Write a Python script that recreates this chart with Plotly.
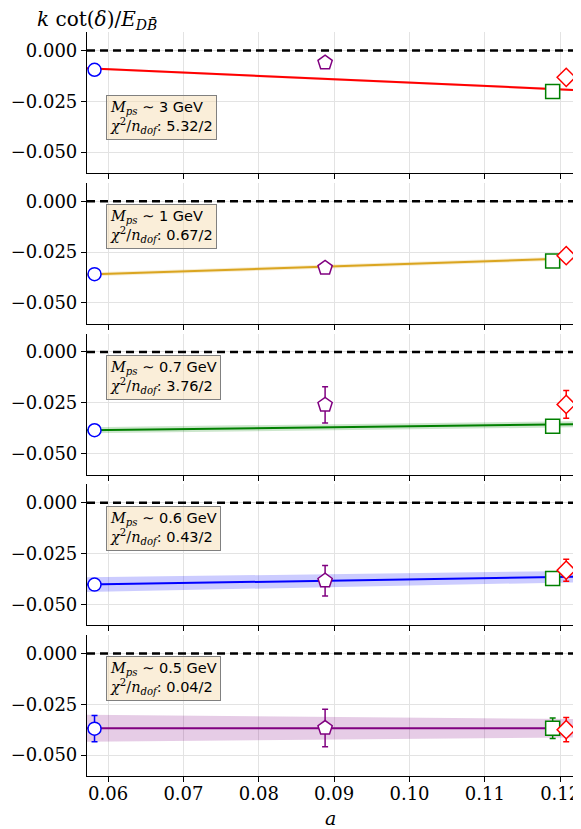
import plotly.graph_objects as go
from plotly.subplots import make_subplots

# ---------------- data ----------------
panel_labels = ["3", "1", "0.7", "0.6", "0.5"]
chi2_labels = ["5.32/2", "0.67/2", "3.76/2", "0.43/2", "0.04/2"]
fit_colors = ["#ff0000", "#daa520", "#008000", "#0000ff", "#800080"]
band_colors = ["rgba(255,0,0,0.2)", "rgba(218,165,32,0.2)", "rgba(0,128,0,0.2)",
               "rgba(0,0,255,0.2)", "rgba(128,0,128,0.2)"]

# lattice spacings of the four ensembles
a_circle = 0.0582
a_pentagon = 0.0888
a_square = 0.1190
a_diamond = 0.1208

# values per panel (circle, pentagon, square, diamond)
y_circle = [-0.0095, -0.0359, -0.0385, -0.0403, -0.0370]
e_circle = [0.0, 0.0, 0.0, 0.0, 0.0065]
y_pentagon = [-0.0060, -0.0328, -0.0260, -0.0384, -0.0367]
e_pentagon = [0.0, 0.0, 0.0089, 0.0075, 0.0092]
y_square = [-0.0202, -0.0294, -0.0365, -0.0373, -0.0368]
e_square = [0.0, 0.0, 0.0, 0.0, 0.0050]
y_diamond = [-0.0132, -0.0268, -0.0258, -0.0332, -0.0375]
e_diamond = [0.0, 0.0, 0.0068, 0.0054, 0.0060]

# fit lines evaluated at the axis ends
fit_a = [0.0572, 0.1217]
fit_left = [-0.0088, -0.0361, -0.0385, -0.0403, -0.0368]
fit_right = [-0.0194, -0.0281, -0.0356, -0.0364, -0.0368]
band_left = [0.0006, 0.0010, 0.0015, 0.0036, 0.0066]
band_right = [0.0006, 0.0010, 0.0015, 0.0028, 0.0045]

x_ticks = [0.06, 0.07, 0.08, 0.09, 0.10, 0.11, 0.12]
x_tick_text = ["0.06", "0.07", "0.08", "0.09", "0.10", "0.11", "0.12"]
y_ticks = [0.0, -0.025, -0.05]
y_tick_text = ["0.000", "\u22120.025", "\u22120.050"]

# ---------------- figure ----------------
n = 5
fig = make_subplots(rows=n, cols=1, shared_xaxes=True, vertical_spacing=9.75 / 744)

serif = "DejaVu Serif"
sans = "DejaVu Sans"

for i in range(n):
    r = i + 1
    # band
    fig.add_trace(go.Scatter(
        x=[fit_a[0], fit_a[1], fit_a[1], fit_a[0]],
        y=[fit_left[i] + band_left[i], fit_right[i] + band_right[i],
           fit_right[i] - band_right[i], fit_left[i] - band_left[i]],
        fill="toself", fillcolor=band_colors[i], line=dict(width=0),
        mode="lines", hoverinfo="skip", showlegend=False), row=r, col=1)
    # fit line
    fig.add_trace(go.Scatter(
        x=fit_a, y=[fit_left[i], fit_right[i]], mode="lines",
        line=dict(color=fit_colors[i], width=2), showlegend=False), row=r, col=1)
    # zero line
    fig.add_trace(go.Scatter(
        x=fit_a, y=[0, 0], mode="lines",
        line=dict(color="black", width=2.5, dash="8px,5px"), showlegend=False), row=r, col=1)
    # points
    pts = [
        (a_circle, y_circle[i], e_circle[i], "circle", "#0000ff", 13),
        (a_pentagon, y_pentagon[i], e_pentagon[i], "pentagon", "#800080", 15),
        (a_square, y_square[i], e_square[i], "square", "#008000", 14),
        (a_diamond, y_diamond[i], e_diamond[i], "diamond", "#ff0000", 14),
    ]
    for (xa, ya, ea, sym, col, sz) in pts:
        fig.add_trace(go.Scatter(
            x=[xa], y=[ya], mode="markers", cliponaxis=True,
            error_y=dict(type="data", array=[ea], visible=True, color=col,
                         thickness=1.5, width=3),
            marker=dict(symbol=sym, size=sz, color="white",
                        line=dict(color=col, width=1.5)),
            showlegend=False), row=r, col=1)

    # annotation box
    ytop = 0.556 if i == 0 else 0.848
    txt = (f"<span style=\"font-family:'{serif}'\"><i>M</i><sub><i>ps</i></sub></span> \u223c {panel_labels[i]} GeV<br>"
           f"<span style=\"font-family:'{serif}'\"><i>\u03c7</i><sup>2</sup>/<i>n</i><sub><i>dof</i></sub></span>: {chi2_labels[i]}")
    xref = "x domain" if i == 0 else f"x{r} domain"
    yref = "y domain" if i == 0 else f"y{r} domain"
    fig.add_annotation(x=0.040, y=ytop, xref=xref, yref=yref, xanchor="left", yanchor="top",
                       text=txt, showarrow=False, align="left",
                       font=dict(family=sans, size=14.5, color="black"),
                       bgcolor="rgba(245,222,179,0.5)", bordercolor="#808080",
                       borderwidth=1, borderpad=3)

for i in range(n):
    r = i + 1
    fig.update_yaxes(row=r, col=1, range=[-0.0603, 0.0091], tickvals=y_ticks, ticktext=y_tick_text,
                     showgrid=True, gridcolor="#e3e3e3", gridwidth=1, zeroline=False,
                     showline=True, linecolor="black", linewidth=1.2, mirror=True,
                     ticks="outside", ticklen=5, tickwidth=1.2, tickcolor="black",
                     automargin=False,
                     tickfont=dict(family=serif, size=18, color="black"))
    fig.update_xaxes(row=r, col=1, range=[0.0572, 0.1217], tickvals=x_ticks, ticktext=x_tick_text,
                     showgrid=True, gridcolor="#e3e3e3", gridwidth=1, zeroline=False,
                     showline=True, linecolor="black", linewidth=1.2,
                     ticks="outside", ticklen=5, tickwidth=1.2, tickcolor="black",
                     showticklabels=(r == n), automargin=False, ticklabelstandoff=-4,
                     tickfont=dict(family=serif, size=18, color="black"))

fig.add_annotation(x=(35 - 87) / 486, y=(776 - 20) / 744, xref="paper", yref="paper",
                   xanchor="left", yanchor="middle", showarrow=False,
                   text="<i>k</i> cot(<i>\u03b4</i>)/<i>E</i><sub><i>DB\u0304</i></sub>",
                   font=dict(family=serif, size=20, color="black"))
fig.add_annotation(x=(330 - 87) / 486, y=(776 - 818) / 744, xref="paper", yref="paper",
                   xanchor="center", yanchor="middle", showarrow=False,
                   text="<i>a</i>", font=dict(family=serif, size=19, color="black"))

# page has an 8px body margin, so shift the plot area up/left by 8px
fig.update_layout(width=581, height=829, margin=dict(l=79, r=16, t=24, b=61, autoexpand=False),
                  plot_bgcolor="white", paper_bgcolor="white", showlegend=False)

fig.write_html("out.html")
